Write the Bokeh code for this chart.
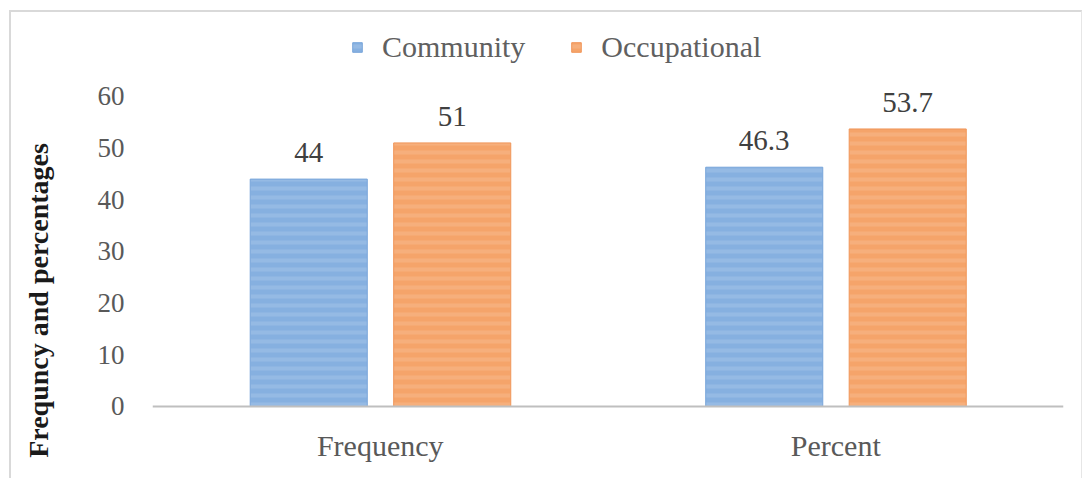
from bokeh.plotting import figure
from bokeh.models import ColumnDataSource, FactorRange, LabelSet, Legend, LegendItem, Span
from bokeh.transform import dodge
from bokeh.embed import file_html
from bokeh.resources import INLINE

categories = ["Frequency", "Percent"]
community = [44, 46.3]
occupational = [51, 53.7]
community_labels = ["44", "46.3"]
occupational_labels = ["51", "53.7"]
y_ticks = [0, 10, 20, 30, 40, 50, 60]
y_title = "Frequncy and percentages"

FONT = "Liberation Serif"

src = ColumnDataSource(data=dict(
    x=categories, c=community, o=occupational,
    cl=community_labels, ol=occupational_labels,
    base=[0] * len(categories),
))

p = figure(
    width=1073, height=468, output_backend="svg", toolbar_location=None,
    x_range=FactorRange(factors=categories, range_padding=0),
    y_range=(-14.32, 74.3),
    min_border_left=141, min_border_right=21, min_border_top=10, min_border_bottom=0,
)
p.margin = (10, 0, 0, 9)
p.styles = {"border-top": "2px solid #d9d9d9", "border-left": "2px solid #d9d9d9",
            "border-right": "1px solid #e6e6e6"}
p.outline_line_color = None
p.grid.grid_line_color = None
p.background_fill_color = "white"
p.border_fill_color = None

blue = "#86b0e0"
orange = "#f5a46a"

# baseline (category axis line) at zero
p.add_layout(Span(location=0, dimension="width", line_color="#bfbfbf", line_width=2))

r1 = p.vbar(x=dodge("x", -0.157, range=p.x_range), top="c", width=0.257, source=src,
            fill_color=blue, line_color="#78a5da", line_width=1,
            hatch_pattern="horizontal_line", hatch_color="white", hatch_alpha=0.12,
            hatch_scale=9, hatch_weight=4)
r2 = p.vbar(x=dodge("x", 0.158, range=p.x_range), top="o", width=0.257, source=src,
            fill_color=orange, line_color="#f0965a", line_width=1,
            hatch_pattern="horizontal_line", hatch_color="white", hatch_alpha=0.12,
            hatch_scale=9, hatch_weight=4)

for col, lab, off in (("c", "cl", -0.157), ("o", "ol", 0.158)):
    ls = LabelSet(x=dodge("x", off, range=p.x_range), y=col, text=lab, source=src,
                  text_align="center", text_baseline="alphabetic", y_offset=17,
                  text_font=FONT, text_font_size="29px", text_color="#404040")
    p.add_layout(ls)

# category labels under the baseline
cat_labels = LabelSet(x="x", y="base", text="x", source=src,
                      text_align="center", text_baseline="middle", y_offset=-39,
                      text_font=FONT, text_font_size="30px", text_color="#595959")
p.add_layout(cat_labels)
p.xaxis.visible = False

# y axis
p.yaxis.ticker = y_ticks
p.yaxis.axis_line_color = None
p.yaxis.major_tick_line_color = None
p.yaxis.minor_tick_line_color = None
p.yaxis.major_label_text_font = FONT
p.yaxis.major_label_text_font_size = "27px"
p.yaxis.major_label_text_color = "#595959"
p.yaxis.major_label_standoff = 22
# trailing no-break spaces shift the centred title lower along the axis
p.yaxis.axis_label = y_title + "\u00a0" * 14
p.yaxis.axis_label_text_font = FONT
p.yaxis.axis_label_text_font_size = "28px"
p.yaxis.axis_label_text_font_style = "bold"
p.yaxis.axis_label_text_color = "#1a1a1a"
p.yaxis.axis_label_standoff = 41

legend = Legend(items=[LegendItem(label="Community", renderers=[r1]),
                       LegendItem(label="Occupational", renderers=[r2])],
                orientation="horizontal", location=(199, 416))
legend.label_text_font = FONT
legend.label_text_font_size = "30px"
legend.label_text_color = "#606060"
legend.glyph_width = 12
legend.glyph_height = 12
legend.label_standoff = 19
legend.spacing = 45
legend.padding = 0
legend.margin = 0
legend.border_line_color = None
legend.background_fill_alpha = 0
p.add_layout(legend, "center")

open("out.html", "w").write(file_html(p, INLINE))
